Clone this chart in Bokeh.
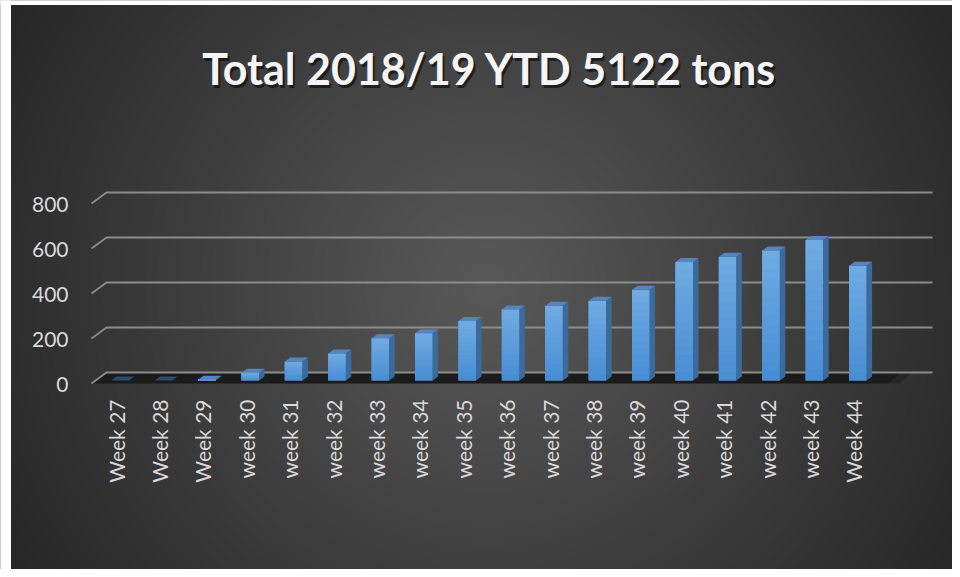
import numpy as np
from bokeh.plotting import figure
from bokeh.models import Range1d, Label, ColumnDataSource
from bokeh.core.properties import value
from bokeh.embed import file_html
from bokeh.resources import INLINE

# ---------------- data ----------------
weeks = ["Week 27", "Week 28", "Week 29", "week 30", "week 31", "week 32",
         "week 33", "week 34", "week 35", "week 36", "week 37", "week 38",
         "week 39", "week 40", "week 41", "week 42", "week 43", "Week 44"]
tons = [0, 0, 3, 35, 84, 120, 188, 210, 264, 316, 332, 354, 403, 527, 550, 578, 625, 510]
y_ticks = [0, 200, 400, 600, 800]
y_tick_labels = ["0", "200", "400", "600", "800"]
title_text = "Total 2018/19 YTD 5122 tons"

# ---------------- geometry / style ----------------
W, H = 952, 569
X0, XS = 119.5, 43.4     # px of first category centre, px per category
Y0, YS = 380.0, 0.225    # px of front baseline, px per ton
def ux(px): return px / XS
def uy(px): return px / YS
def ax(px): return (px - X0) / XS

x_start, x_end = (0 - X0) / XS, (W - X0) / XS
y_start, y_end = (Y0 - H) / YS, Y0 / YS

p = figure(width=W, height=H, output_backend="svg", toolbar_location=None,
           x_range=Range1d(x_start, x_end), y_range=Range1d(y_start, y_end),
           x_axis_location=None, y_axis_location=None, min_border=0,
           background_fill_color="#2b2b2b", border_fill_color="#2b2b2b",
           outline_line_color=None, tools="")
p.grid.visible = False

# radial background gradient
fy, fx = np.mgrid[0:H, 0:W]
r = np.hypot(fx - 485.0, fy - 285.0)
c = (89 - 51 * np.clip(r / 560.0, 0, 1)).astype(np.uint8)
img = np.empty((H, W), dtype=np.uint32)
view = img.view(dtype=np.uint8).reshape((H, W, 4))
view[:, :, 0] = c
view[:, :, 1] = c
view[:, :, 2] = c
view[:, :, 3] = 255
img = np.flipud(img).copy()
p.image_rgba(image=[img], x=x_start, y=y_start, dw=x_end - x_start, dh=y_end - y_start)

# white page edge (left / top) as in the reference screenshot
p.quad(left=x_start, right=ax(10), bottom=y_start, top=y_end, color="white")
p.quad(left=x_start, right=x_end, bottom=(Y0 - 4) / YS, top=y_end, color="white")

n = len(weeks)
idx = np.arange(n)
front_y = uy(-3)
back_y = uy(8)
left_front_x = ax(91)
left_back_x = ax(106)
right_back_x = ax(932)

# floor
p.patch([left_front_x, left_back_x, ax(900), ax(888)],
        [front_y, back_y, back_y, front_y], fill_color="#1b1b1b", line_color=None)
p.patch([ax(887), ax(899), ax(911), ax(899)],
        [front_y, back_y, back_y, front_y], fill_color="#1b1b1b", fill_alpha=0.5,
        line_color=None)

# gridlines (slanted wall edge + back wall line)
gx, gy = [], []
for t in y_ticks:
    gx.append([left_front_x, left_back_x, right_back_x])
    gy.append([t + front_y, t + back_y, t + back_y])
p.multi_line(gx, gy, line_color="#8c8c8c", line_width=1.8)

# bars: front faces with vertical gradient
half = ux(8.8)
dx = ux(5.5)
dy = uy(4)
N = 14
top_rgb = np.array([0x70, 0xab, 0xe3])
bot_rgb = np.array([0x48, 0x8d, 0xd4])
p.vbar(x=list(idx), bottom=0, top=tons, width=2 * half, fill_color="#5c9cdb",
       line_color=None)
bx, bb, bt, bc = [], [], [], []
overlap = uy(0.8)
for i, v in enumerate(tons):
    for k in range(N):
        f = (k + 0.5) / N
        col = bot_rgb + (top_rgb - bot_rgb) * f
        bx.append(i)
        bb.append(v * k / N)
        bt.append(min(v * (k + 1) / N + overlap, v))
        bc.append("#%02x%02x%02x" % tuple(int(round(q)) for q in col))
p.vbar(x="x", bottom="b", top="t", width=2 * half, fill_color="c", line_color=None,
       source=ColumnDataSource(dict(x=bx, b=bb, t=bt, c=bc)))

side_xs, side_ys, top_xs, top_ys, top_cols = [], [], [], [], []
for i, v in enumerate(tons):
    xl, xr = i - half, i + half
    side_xs.append([xr, xr, xr + dx, xr + dx])
    side_ys.append([0, v, v + dy, dy])
    top_xs.append([xl, xr, xr + dx, xl + dx])
    top_ys.append([v, v, v + dy, v + dy])
    top_cols.append("#2c4a6a" if v < 1 else "#5585ba")
p.patches(side_xs, side_ys, fill_color="#3b6a9d", line_color=None)
p.patches(top_xs, top_ys, fill_color=top_cols, line_color=None)

# y tick labels
p.text(x=[ax(68)] * len(y_ticks), y=[t + uy(-4) for t in y_ticks],
       text=y_tick_labels, text_align="right", text_baseline="middle",
       text_font=value("Lato"), text_font_size="21px", text_color="#d9d9d9")

# category labels
p.text(x=list(idx + ux(-4)), y=[uy(-19)] * n, text=weeks, angle=np.pi / 2,
       text_align="right", text_baseline="middle",
       text_font=value("Lato"), text_font_size="21px", text_color="#d9d9d9")

# title with shadow
p.add_layout(Label(x=489 + 2, y=H - 68 - 3, x_units="screen", y_units="screen",
                   text=title_text, text_align="center", text_baseline="alphabetic",
                   text_font="Lato", text_font_style="bold", text_font_size="43px",
                   text_color="black", text_alpha=0.55))
p.add_layout(Label(x=489, y=H - 68, x_units="screen", y_units="screen",
                   text=title_text, text_align="center", text_baseline="alphabetic",
                   text_font="Lato", text_font_style="bold", text_font_size="43px",
                   text_color="#f5f5f5"))

open("out.html", "w").write(file_html(p, INLINE))
